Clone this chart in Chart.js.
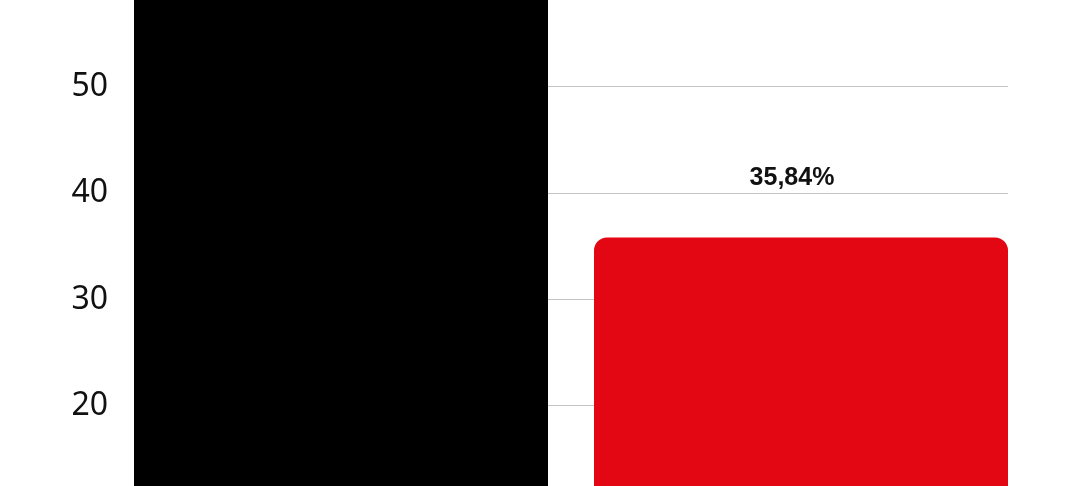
<!DOCTYPE html>
<html>
<head>
<meta charset="utf-8">
<script src="https://cdn.jsdelivr.net/npm/chart.js@4"></script>
<style>
  html, body { margin: 0; padding: 0; background: #fff; }
  #wrap { width: 1080px; height: 486px; position: relative; }
</style>
</head>
<body>
<div id="wrap"><canvas id="myChart"></canvas></div>
<script>
// set the data
var categories = ["A", "B"];
var values = [64.16, 35.84];
var barColors = ["#000000", "#e30613"];
var yTicks = [20, 30, 40, 50];

// bar value labels
var valueLabels = {
  id: "valueLabels",
  afterDatasetsDraw: function(chart) {
    var ctx = chart.ctx;
    var meta = chart.getDatasetMeta(0);
    ctx.save();
    ctx.font = "bold 25px 'Liberation Sans', Arial, sans-serif";
    ctx.fillStyle = "#111";
    ctx.textAlign = "center";
    ctx.textBaseline = "alphabetic";
    meta.data.forEach(function(bar, i) {
      var txt = values[i].toFixed(2).replace(".", ",") + "%";
      ctx.fillText(txt, bar.x - 9, bar.y - 53);
    });
    ctx.restore();
  }
};

new Chart("myChart", {
  type: "bar",
  data: {
    datasets: [{
      data: values.map(function(v, i) { return {x: i, y: v}; }),
      backgroundColor: barColors,
      borderRadius: 13,
      borderSkipped: "start",
      barPercentage: 0.9,
      categoryPercentage: 1
    }]
  },
  options: {
    responsive: true,
    maintainAspectRatio: false,
    animation: false,
    layout: { padding: {left: 0, top: 0, bottom: 0, right: 72} },
    plugins: {
      legend: { display: false },
      tooltip: { enabled: false }
    },
    scales: {
      x: {
        type: "linear",
        display: false,
        offset: false,
        min: -0.45,
        max: categories.length - 0.55,
        afterBuildTicks: function(scale) {
          scale.ticks = categories.map(function(c, i) { return {value: i}; });
        }
      },
      y: {
        min: 12.47,
        max: 58.18,
        afterFit: function(scale) {
          scale.width = 134;
          scale.paddingTop = 0;
          scale.paddingBottom = 0;
        },
        afterBuildTicks: function(scale) {
          scale.ticks = yTicks.map(function(v) { return {value: v}; });
        },
        border: { display: false },
        grid: { color: "#c4c4c4", lineWidth: 1, drawTicks: false },
        ticks: {
          padding: 26,
          color: "#111",
          font: { family: "'Noto Sans', sans-serif", size: 32 }
        }
      }
    }
  },
  plugins: [valueLabels]
});
</script>
</body>
</html>
